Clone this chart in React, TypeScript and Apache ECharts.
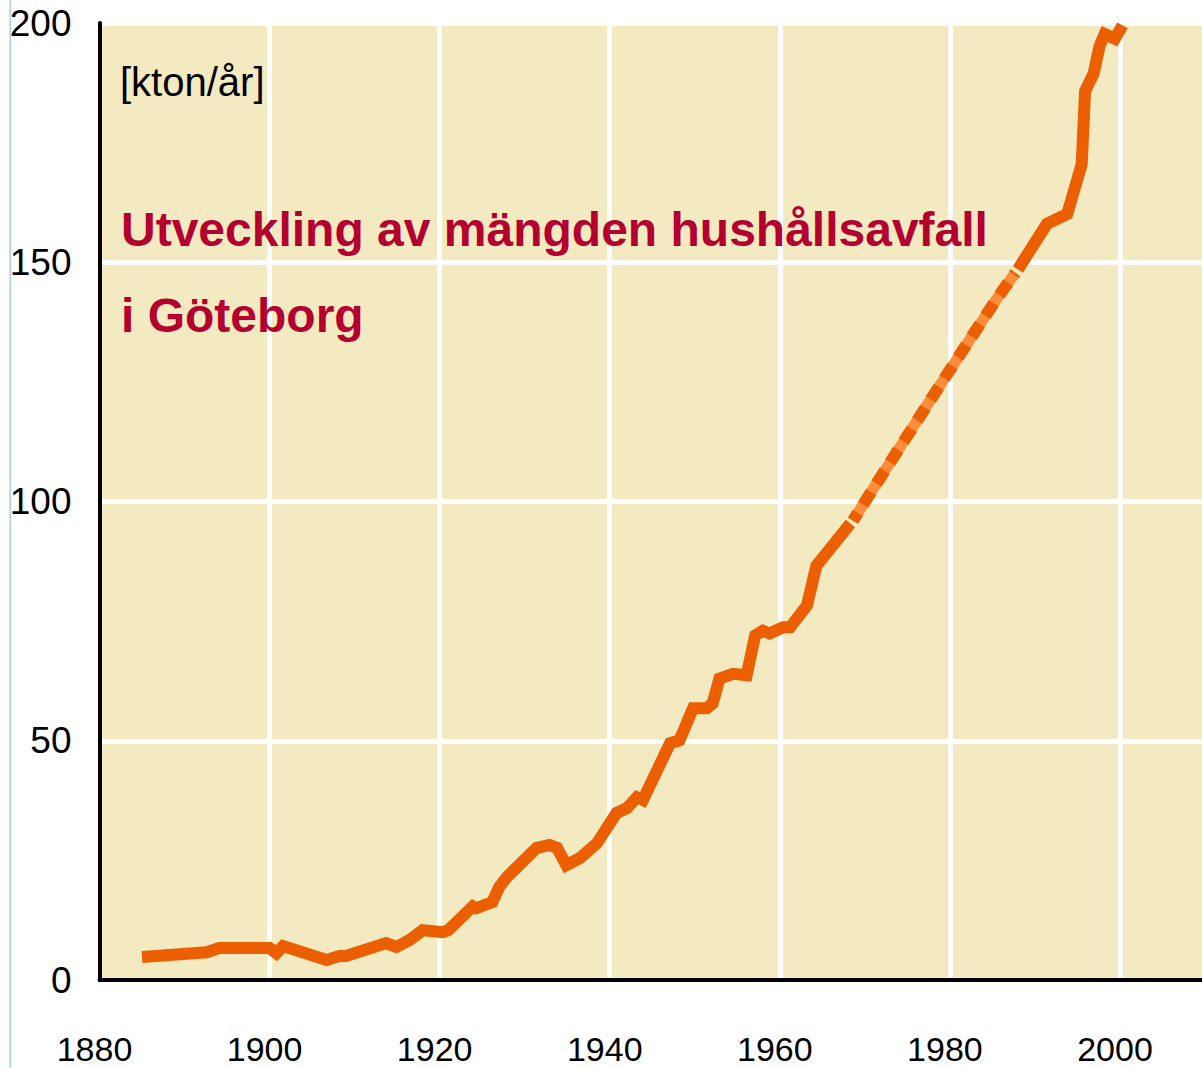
import React, { useEffect, useRef } from "react";
import * as echarts from "echarts";

// Reference readings: year -> household waste [kton/år]
const solidYearsA = [1885.0, 1892.6, 1894.1, 1900.0, 1900.8, 1901.6, 1906.7, 1908.2, 1909.0, 1913.7, 1914.9, 1916.5, 1918.0, 1920.4, 1921.0, 1923.9, 1924.3, 1926.2, 1927.0, 1927.9, 1931.4, 1932.9, 1933.8, 1934.9, 1936.5, 1938.5, 1940.8, 1942.0, 1943.2, 1943.9, 1947.1, 1948.2, 1949.8, 1951.4, 1952.1, 1952.9, 1954.5, 1956.1, 1957.1, 1958.0, 1958.8, 1960.4, 1961.2, 1963.2, 1964.3, 1968.3];
const solidValuesA = [4.8, 5.8, 6.7, 6.7, 5.6, 7.1, 4.2, 5.0, 5.0, 7.7, 6.9, 8.4, 10.4, 10.0, 10.4, 15.4, 15.0, 16.3, 19.4, 21.5, 27.6, 28.2, 27.6, 24.0, 25.5, 28.6, 34.9, 35.9, 38.2, 37.6, 49.5, 50.1, 56.8, 56.8, 57.8, 63.0, 64.0, 63.7, 72.0, 73.0, 72.4, 73.7, 73.7, 78.3, 86.6, 95.4];

const dashedYears = [1968.6, 1972.0, 1976.0, 1979.2, 1982.4, 1985.6, 1987.7];
const dashedValues = [96.0, 105.5, 116.5, 125.3, 134.0, 142.6, 147.8];

const solidYearsB = [1988.0, 1991.4, 1993.8, 1994.7, 1995.5, 1995.9, 1996.9, 1997.6, 1998.2, 1999.4, 2000.3];
const solidValuesB = [148.5, 158.0, 160.1, 165.6, 170.5, 185.8, 189.4, 195.2, 197.7, 196.7, 199.5];

const yearTicks = [1880, 1900, 1920, 1940, 1960, 1980, 2000];
const valueTicks = [0, 50, 100, 150, 200];

const unitLabel = "[kton/år]";
const titleLine1 = "Utveckling av mängden hushållsavfall";
const titleLine2 = "i Göteborg";

const pairs = (xs: number[], ys: number[]) => xs.map((x, i) => [x, ys[i]]);

const DARK = "#EB5F00";
const LIGHT = "#FF8C3A";
const SANS = '"Liberation Sans", Arial, sans-serif';

export default function App() {
  const ref = useRef<HTMLDivElement>(null);
  useEffect(() => {
    if (!ref.current) return;
    const chart = echarts.init(ref.current, null, { renderer: "svg" });
    chart.setOption({
      animation: false,
      backgroundColor: "#ffffff",
      grid: {
        left: 99.5,
        right: -3,
        top: 23,
        bottom: 88,
        outerBoundsMode: "none",
        containLabel: false,
        show: true,
        backgroundColor: "#F3EAC2",
        borderWidth: 0,
      },
      xAxis: {
        type: "value",
        min: yearTicks[0],
        max: 2010,
        interval: 20,
        axisLine: { show: true, onZero: false, lineStyle: { color: "#000", width: 4 } },
        axisTick: { show: false },
        splitLine: { show: true, lineStyle: { color: "#ffffff", width: 5 } },
        axisLabel: {
          margin: 55,
          fontFamily: SANS,
          fontSize: 34,
          lineHeight: 28,
          color: "#000",
          padding: [0, 10, 0, 0],
          formatter: (v: number) => (yearTicks.includes(v) ? String(v) : ""),
        },
      },
      yAxis: {
        type: "value",
        min: valueTicks[0],
        max: valueTicks[valueTicks.length - 1],
        interval: 50,
        axisLine: { show: true, lineStyle: { color: "#000", width: 4 } },
        axisTick: { show: false },
        splitLine: { show: true, lineStyle: { color: "#ffffff", width: 5 } },
        axisLabel: {
          margin: 28,
          fontFamily: SANS,
          fontSize: 37,
          color: "#000",
          padding: [8, 0, 0, 0],
        },
      },
      graphic: [
        { type: "rect", shape: { x: 9.5, y: 0, width: 1.5, height: 1068 }, style: { fill: "#A8CFEA" }, z: 10 },
        { type: "text", x: 120, y: 62, z: 20, style: { text: unitLabel, font: `40px ${SANS}`, fill: "#000", verticalAlign: "top" } },
        { type: "text", x: 121, y: 205, z: 20, style: { text: titleLine1, font: `bold 48px ${SANS}`, fill: "#B4002F", verticalAlign: "top" } },
        { type: "text", x: 121, y: 291, z: 20, style: { text: titleLine2, font: `bold 48px ${SANS}`, fill: "#B4002F", verticalAlign: "top" } },
      ],
      series: [
        {
          type: "line",
          data: pairs(solidYearsA, solidValuesA),
          showSymbol: false,
          clip: false,
          lineStyle: { color: DARK, width: 12, join: "miter", cap: "butt" },
        },
        {
          type: "line",
          data: pairs(dashedYears, dashedValues),
          showSymbol: false,
          clip: false,
          lineStyle: { color: LIGHT, width: 11, cap: "butt" },
        },
        {
          type: "line",
          data: pairs(dashedYears, dashedValues),
          showSymbol: false,
          clip: false,
          z: 3,
          lineStyle: { color: DARK, width: 12, type: [15, 10], dashOffset: 6, cap: "butt" },
        },
        {
          type: "line",
          data: pairs(solidYearsB, solidValuesB),
          showSymbol: false,
          clip: false,
          lineStyle: { color: DARK, width: 12, join: "miter", cap: "butt" },
        },
      ],
    });
    return () => chart.dispose();
  }, []);
  return (
    <div
      ref={ref}
      style={{ position: "absolute", left: 0, top: 0, width: 1202, height: 1068 }}
    />
  );
}
